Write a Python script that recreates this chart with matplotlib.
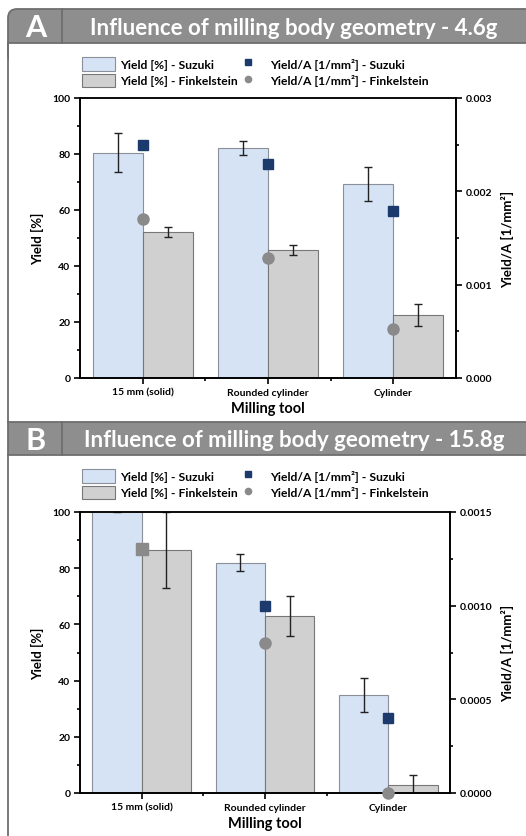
import numpy as np
import matplotlib
matplotlib.use("Agg")
import matplotlib.pyplot as plt
from matplotlib.patches import Rectangle, FancyBboxPatch
from matplotlib.lines import Line2D
from matplotlib.ticker import MultipleLocator, FixedLocator, FormatStrFormatter

plt.rcParams['font.family'] = ['Lato', 'DejaVu Sans']

# milling tools on the x axis
tools = ["15 mm (solid)", "Rounded cylinder", "Cylinder"]

# panel A : 4.6 g
yield_suzuki_a = [80.5, 82.0, 69.2]
yield_suzuki_a_err = [7.0, 2.5, 6.0]
yield_fink_a = [52.0, 45.8, 22.6]
yield_fink_a_err = [1.8, 1.8, 4.0]
ypa_suzuki_a = [0.0025, 0.00229, 0.00179]
ypa_fink_a = [0.0017, 0.00129, 0.00052]

# panel B : 15.8 g
yield_suzuki_b = [108.0, 81.9, 34.9]
yield_suzuki_b_err = [8.0, 3.0, 6.0]
yield_fink_b = [86.6, 63.0, 3.0]
yield_fink_b_err = [13.5, 7.0, 3.5]
ypa_suzuki_b = [np.nan, 0.0010, 0.0004]
ypa_fink_b = [0.0013, 0.0008, 0.0]
fink_b_markers = ['s', 'o', 'o']

W, H = 526, 837
C_SUZ = '#d5e3f5'
C_FINK = '#d0d0d0'
C_NAVY = '#1c3a6b'
C_DOT = '#8a8a8a'
C_HEAD = '#8e8e8e'
C_FRAME = '#6e6e6e'

fig = plt.figure(figsize=(W / 100, H / 100), dpi=100)

# background layer in pixel units for the panel headers and frame
bg = fig.add_axes([0, 0, 1, 1], zorder=-5)
bg.set_xlim(0, W)
bg.set_ylim(H, 0)
bg.axis('off')


def header(y0, y1, letter, title, rounded):
    if rounded:
        bg.add_patch(FancyBboxPatch((8, y0), W + 20, (y1 - y0) + 20,
                                    boxstyle="round,pad=0,rounding_size=9",
                                    fc=C_HEAD, ec=C_FRAME, lw=1.3))
        bg.add_patch(Rectangle((8.8, y1), W, 25, fc='white', ec='none'))
        bg.plot([8, W], [y1, y1], color=C_FRAME, lw=1.3)
    else:
        bg.add_patch(Rectangle((8, y0), W + 20, y1 - y0,
                               fc=C_HEAD, ec=C_FRAME, lw=1.3))
    bg.plot([61.5, 61.5], [y0, y1], color=C_FRAME, lw=1.3)
    bg.text(36, (y0 + y1) / 2 + 1, letter, color='white', fontsize=22,
            fontweight='bold', ha='center', va='center')
    bg.text(294, (y0 + y1) / 2 + 1, title, color='white', fontsize=16,
            fontweight='bold', ha='center', va='center')


header(10, 44, "A", "Influence of milling body geometry - 4.6g", True)
header(423, 456, "B", "Influence of milling body geometry - 15.8g", False)
bg.plot([8, 8], [44, 423], color=C_FRAME, lw=1.3)
bg.plot([8, 8], [456, H], color=C_FRAME, lw=1.3)


def panel(rect, ys, ys_err, yf, yf_err, ps, pf, ylim2, step2, fmt2,
          fink_markers, leg_y):
    ax = fig.add_axes(rect)
    x = np.arange(1, len(tools) + 1)
    ax.bar(x - 0.2, ys, width=0.4, color=C_SUZ, edgecolor='#8a8f99',
           linewidth=0.8, zorder=2)
    ax.bar(x + 0.2, yf, width=0.4, color=C_FINK, edgecolor='#777777',
           linewidth=0.8, zorder=2)
    ax.errorbar(x - 0.2, ys, yerr=ys_err, fmt='none', ecolor='#222222',
                elinewidth=1, capsize=3, capthick=1, zorder=3)
    ax.errorbar(x + 0.2, yf, yerr=yf_err, fmt='none', ecolor='#222222',
                elinewidth=1, capsize=3, capthick=1, zorder=3)
    ax.set_xlim(0.5, 3.5)
    ax.set_ylim(0, 100)
    ax.yaxis.set_major_locator(MultipleLocator(20))
    ax.yaxis.set_minor_locator(MultipleLocator(10))
    ax.xaxis.set_major_locator(FixedLocator(x))
    ax.xaxis.set_minor_locator(FixedLocator([1.5, 2.5]))
    ax.set_xticklabels(tools)
    ax.tick_params(axis='both', which='major', direction='out', length=4,
                   width=1.2, labelsize=7.5, pad=3)
    ax.tick_params(axis='both', which='minor', direction='out', length=2.5,
                   width=1.2)
    for lab in ax.get_xticklabels() + ax.get_yticklabels():
        lab.set_fontweight('bold')
    ax.set_ylabel("Yield [%]", fontsize=9.5, fontweight='bold', labelpad=6)
    ax.set_xlabel("Milling tool", fontsize=10.5, fontweight='bold',
                  labelpad=3)
    for s in ax.spines.values():
        s.set_linewidth(1.2)
    ax.spines['top'].set_color('#444444')

    ax2 = ax.twinx()
    ax2.plot(x, ps, linestyle='none', marker='s', markersize=7,
             color=C_NAVY, zorder=4)
    for xi, pv, mk in zip(x, pf, fink_markers):
        ax2.plot([xi], [pv], linestyle='none', marker=mk, markersize=8,
                 color=C_DOT, zorder=4, clip_on=False)
    ax2.set_ylim(0, ylim2)
    ax2.yaxis.set_major_locator(MultipleLocator(step2))
    ax2.yaxis.set_minor_locator(MultipleLocator(step2 / 2))
    ax2.yaxis.set_major_formatter(fmt2)
    ax2.tick_params(axis='y', which='major', direction='out', length=4,
                    width=1.2, labelsize=7.5, pad=3)
    ax2.tick_params(axis='y', which='minor', direction='out', length=2.5,
                    width=1.2)
    for lab in ax2.get_yticklabels():
        lab.set_fontweight('bold')
    ax2.set_ylabel("Yield/A [1/mm²]", fontsize=9.5, fontweight='bold',
                   labelpad=6)
    for s in ax2.spines.values():
        s.set_linewidth(1.2)

    handles = [
        Rectangle((0, 0), 1, 1, fc=C_SUZ, ec='#8a8f99', lw=0.8),
        Rectangle((0, 0), 1, 1, fc=C_FINK, ec='#777777', lw=0.8),
        Line2D([], [], linestyle='none', marker='s', markersize=4.5,
               color=C_NAVY),
        Line2D([], [], linestyle='none', marker='o', markersize=4.5,
               color=C_DOT),
    ]
    labels = ["Yield [%] - Suzuki", "Yield [%] - Finkelstein",
              "Yield/A [1/mm²] - Suzuki", "Yield/A [1/mm²] - Finkelstein"]
    fig.legend(handles, labels, ncol=2, loc='upper left',
               bbox_to_anchor=(76 / W, 1 - leg_y / H), frameon=False,
               prop={'weight': 'bold', 'size': 8.7},
               handlelength=2.7, handleheight=1.35, handletextpad=0.45,
               columnspacing=-0.5, labelspacing=0.25, borderpad=0)
    return ax, ax2


panel([80 / W, 1 - 379 / H, 376 / W, 280 / H],
      yield_suzuki_a, yield_suzuki_a_err, yield_fink_a, yield_fink_a_err,
      ypa_suzuki_a, ypa_fink_a, 0.003, 0.001, FormatStrFormatter('%.3f'),
      ['o', 'o', 'o'], 52)
panel([80 / W, 1 - 794 / H, 370 / W, 281 / H],
      yield_suzuki_b, yield_suzuki_b_err, yield_fink_b, yield_fink_b_err,
      ypa_suzuki_b, ypa_fink_b, 0.0015, 0.0005, FormatStrFormatter('%.4f'),
      fink_b_markers, 464)

fig.savefig("out.png", dpi=100)
